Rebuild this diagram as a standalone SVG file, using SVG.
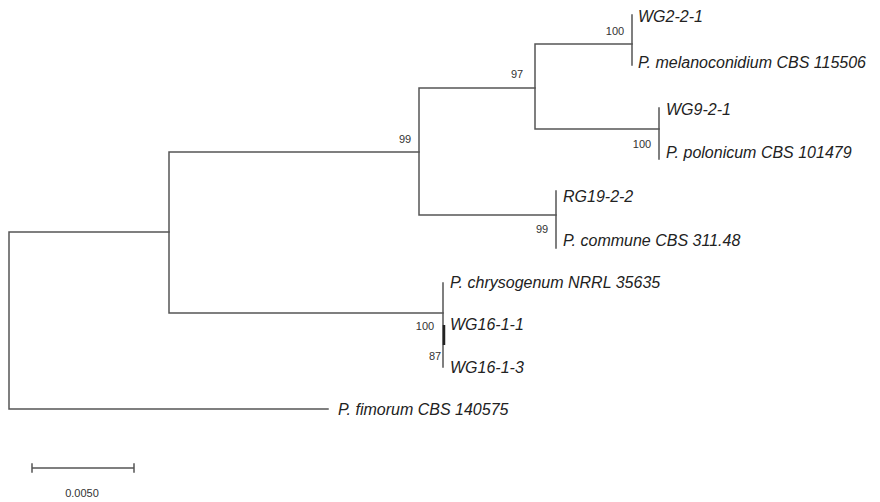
<svg xmlns="http://www.w3.org/2000/svg" width="880" height="502" viewBox="0 0 880 502">
<style>
.br{stroke:#555;stroke-width:1.5;fill:none;stroke-linecap:square}
.tx{font-family:"Liberation Sans",Arial,sans-serif;font-style:italic;font-size:16px;fill:#222}
.bs{font-family:"Liberation Sans",Arial,sans-serif;font-size:11px;fill:#333;text-anchor:middle}
</style>
<rect width="880" height="502" fill="#fff"/>
<g id="connectors">
<path class="br" d="M9,232V409M9,232H169M9,409H328"/>
<path class="br" d="M169,152V313M169,152H419M169,313H443"/>
<path class="br" d="M419,88V215M419,88H535M419,215H556"/>
<path class="br" d="M535,44V129M535,44H632M535,129H659"/>
<path class="br" d="M632,15V65"/>
<path class="br" d="M659,108V159"/>
<path class="br" d="M556,191V248"/>
<path class="br" d="M443,283V367"/>
<path d="M444,325V345" stroke="#222" stroke-width="2.5"/>
</g>
<g id="n-wg221"><text class="tx" x="638" y="22">WG2-2-1</text></g>
<g id="n-melano"><text class="tx" x="638" y="68">P. melanoconidium CBS 115506</text></g>
<g id="n-wg921"><text class="tx" x="666" y="115">WG9-2-1</text></g>
<g id="n-polon"><text class="tx" x="666" y="158">P. polonicum CBS 101479</text></g>
<g id="n-rg1922"><text class="tx" x="563" y="202">RG19-2-2</text></g>
<g id="n-commune"><text class="tx" x="563" y="246">P. commune CBS 311.48</text></g>
<g id="n-chryso"><text class="tx" x="450" y="288">P. chrysogenum NRRL 35635</text></g>
<g id="n-wg1611"><text class="tx" x="450" y="330">WG16-1-1</text></g>
<g id="n-wg1613"><text class="tx" x="450" y="373">WG16-1-3</text></g>
<g id="n-fimorum"><text class="tx" x="338" y="415">P. fimorum CBS 140575</text></g>
<g id="bootstrap">
<text class="bs" x="615" y="35">100</text>
<text class="bs" x="517" y="78">97</text>
<text class="bs" x="642" y="148">100</text>
<text class="bs" x="405" y="143">99</text>
<text class="bs" x="542" y="233">99</text>
<text class="bs" x="425" y="330">100</text>
<text class="bs" x="435" y="360">87</text>
</g>
<g id="scalebar">
<path class="br" d="M32,468H134M32,464V472M134,464V472"/>
<text class="bs" x="82" y="497">0.0050</text>
</g>
</svg>
